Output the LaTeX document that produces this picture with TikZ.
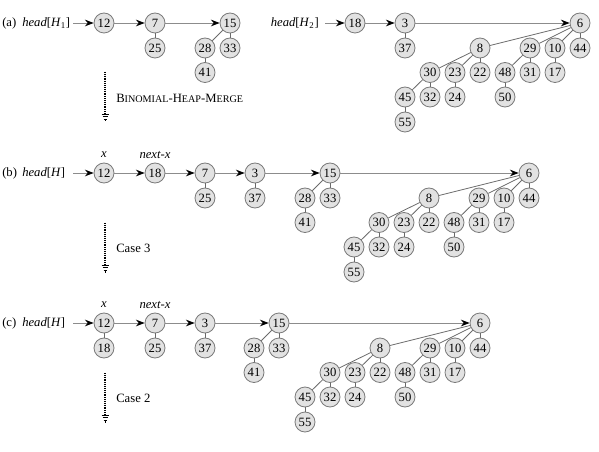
\documentclass[tikz,border=0pt]{standalone}
\usepackage{fontspec}
\setmainfont{Liberation Serif}
\usetikzlibrary{arrows.meta,calc}

\definecolor{keyfill}{HTML}{E2E2E2}
\definecolor{keyline}{HTML}{7A7A7A}
\definecolor{linkline}{HTML}{8C8C8C}
\definecolor{treeline}{HTML}{6A6A6A}

\tikzset{
  key/.style={circle, draw=keyline, fill=keyfill, line width=0.6pt,
    minimum size=15pt, inner sep=0pt, font=\fontsize{9.5}{11}\selectfont},
  rootlink/.style={draw=linkline, line width=0.7pt,
    -{Stealth[length=6.5pt, width=5pt, color=black]}},
  kid/.style={draw=treeline, line width=0.6pt},
  lbl/.style={inner sep=0pt, font=\fontsize{9.5}{11}\selectfont},
  stepflow/.style={black, line width=0.9pt, dash pattern=on 0.7pt off 0.7pt},
  stepbar/.style={black, line width=0.6pt},
}

% binomial tree of order 4 rooted at 6, placed at #1 with name prefix #2
\newcommand{\sixtree}[2]{%
  \begin{scope}[shift={#1}, name prefix=#2]
    \node[key] (6)  at (0,0)      {6};
    \node[key] (44) at (0,25)     {44};
    \node[key] (10) at (-25,25)   {10};
    \node[key] (29) at (-50,25)   {29};
    \node[key] (8)  at (-100,25)  {8};
    \node[key] (17) at (-25,49.5) {17};
    \node[key] (31) at (-50,49.5) {31};
    \node[key] (48) at (-75,49.5) {48};
    \node[key] (22) at (-100,49.5){22};
    \node[key] (23) at (-125,49.5){23};
    \node[key] (30) at (-150,49.5){30};
    \node[key] (50) at (-75,74)   {50};
    \node[key] (24) at (-125,74)  {24};
    \node[key] (32) at (-150,74)  {32};
    \node[key] (45) at (-175,74)  {45};
    \node[key] (55) at (-175,99)  {55};
    \draw[kid] (6) -- (8);  \draw[kid] (6) -- (29);
    \draw[kid] (6) -- (10); \draw[kid] (6) -- (44);
    \draw[kid] (8) -- (30); \draw[kid] (8) -- (23); \draw[kid] (8) -- (22);
    \draw[kid] (30) -- (45); \draw[kid] (30) -- (32);
    \draw[kid] (45) -- (55); \draw[kid] (23) -- (24);
    \draw[kid] (29) -- (48); \draw[kid] (29) -- (31);
    \draw[kid] (48) -- (50); \draw[kid] (10) -- (17);
  \end{scope}}

% binomial tree of order 2 rooted at 15
\newcommand{\fifteentree}[2]{%
  \begin{scope}[shift={#1}, name prefix=#2]
    \node[key] (15) at (0,0)      {15};
    \node[key] (33) at (0,25)     {33};
    \node[key] (28) at (-25,25)   {28};
    \node[key] (41) at (-25,49.5) {41};
    \draw[kid] (15) -- (28); \draw[kid] (15) -- (33);
    \draw[kid] (28) -- (41);
  \end{scope}}

% dotted downward step arrow with a hatched head
\newcommand{\steparrow}[2]{%
  \coordinate (#2top) at #1;
  \coordinate (#2bot) at ($#1+(0,42)$);
  \draw[stepflow] (#2top) -- (#2bot);
  \draw[stepbar] ($(#2bot)+(-3.5,0)$) -- ($(#2bot)+(3.5,0)$);
  \draw[stepbar] ($(#2bot)+(-2.5,2.5)$) -- ($(#2bot)+(2.5,2.5)$);
  \draw[stepbar] ($(#2bot)+(-1.5,5)$) -- ($(#2bot)+(1.5,5)$);
  \draw[stepbar] ($(#2bot)+(0,5)$) -- ($(#2bot)+(0,7.5)$);}

\begin{document}
\begin{tikzpicture}[x=0.75pt, y=-0.75pt]
  \useasboundingbox (0,0) rectangle (599,452);

  % ---------------- (a) the two heaps before merging ----------------
  \node[lbl, anchor=west] (atag) at (2,23) {(a)};
  \node[lbl, anchor=west] (ahead1) at (22,23) {\textit{head}[\textit{H}\textsubscript{1}]};
  \coordinate (astart1) at (73,23);
  \node[key] (a12) at (104,23) {12};
  \node[key] (a7)  at (155,23) {7};
  \node[key] (a25) at (155,48) {25};
  \fifteentree{(230,23)}{a}
  \draw[rootlink] (astart1) -- (a12);
  \draw[rootlink] (a12) -- (a7);
  \draw[rootlink] (a7) -- (a15);
  \draw[kid] (a7) -- (a25);

  \node[lbl, anchor=east] (ahead2) at (319,23) {\textit{head}[\textit{H}\textsubscript{2}]};
  \coordinate (astart2) at (325,23);
  \node[key] (a18) at (355,23) {18};
  \node[key] (a3)  at (405,23) {3};
  \node[key] (a37) at (405,48) {37};
  \sixtree{(580,23)}{a}
  \draw[rootlink] (astart2) -- (a18);
  \draw[rootlink] (a18) -- (a3);
  \draw[rootlink] (a3) -- (a6);
  \draw[kid] (a3) -- (a37);

  \steparrow{(105,72)}{sa}
  \node[lbl, anchor=west] (amerge) at (116,98)
    {B{\fontsize{7.6}{9}\selectfont INOMIAL}-H{\fontsize{7.6}{9}\selectfont EAP}-M{\fontsize{7.6}{9}\selectfont ERGE}};

  % ---------------- (b) after merging the root lists ----------------
  \node[lbl, anchor=west] (btag) at (2,173) {(b)};
  \node[lbl, anchor=west] (bhead) at (22,173) {\textit{head}[\textit{H}]};
  \coordinate (bstart) at (73,173);
  \node[key] (b12) at (104,173) {12};
  \node[key] (b18) at (155,173) {18};
  \node[key] (b7)  at (205,173) {7};
  \node[key] (b25) at (205,198) {25};
  \node[key] (b3)  at (255,173) {3};
  \node[key] (b37) at (255,198) {37};
  \fifteentree{(330,173)}{b}
  \sixtree{(529,173)}{b}
  \draw[rootlink] (bstart) -- (b12);
  \draw[rootlink] (b12) -- (b18);
  \draw[rootlink] (b18) -- (b7);
  \draw[rootlink] (b7) -- (b3);
  \draw[rootlink] (b3) -- (b15);
  \draw[rootlink] (b15) -- (b6);
  \draw[kid] (b7) -- (b25);
  \draw[kid] (b3) -- (b37);
  \node[lbl] (bx) at (104,155) {\textit{x}};
  \node[lbl] (bnx) at (155,155) {\textit{next-x}};

  \steparrow{(105,223)}{sb}
  \node[lbl, anchor=west] (bcase) at (116,248) {Case 3};

  % ---------------- (c) after linking 18 under 12 ----------------
  \node[lbl, anchor=west] (ctag) at (2,323) {(c)};
  \node[lbl, anchor=west] (chead) at (22,323) {\textit{head}[\textit{H}]};
  \coordinate (cstart) at (73,323);
  \node[key] (c12) at (104,323) {12};
  \node[key] (c18) at (104,348) {18};
  \node[key] (c7)  at (155,323) {7};
  \node[key] (c25) at (155,348) {25};
  \node[key] (c3)  at (205,323) {3};
  \node[key] (c37) at (205,348) {37};
  \fifteentree{(279,323)}{c}
  \sixtree{(480,323)}{c}
  \draw[rootlink] (cstart) -- (c12);
  \draw[rootlink] (c12) -- (c7);
  \draw[rootlink] (c7) -- (c3);
  \draw[rootlink] (c3) -- (c15);
  \draw[rootlink] (c15) -- (c6);
  \draw[kid] (c12) -- (c18);
  \draw[kid] (c7) -- (c25);
  \draw[kid] (c3) -- (c37);
  \node[lbl] (cx) at (104,305) {\textit{x}};
  \node[lbl] (cnx) at (155,305) {\textit{next-x}};

  \steparrow{(105,373)}{sc}
  \node[lbl, anchor=west] (ccase) at (116,398) {Case 2};
\end{tikzpicture}
\end{document}
